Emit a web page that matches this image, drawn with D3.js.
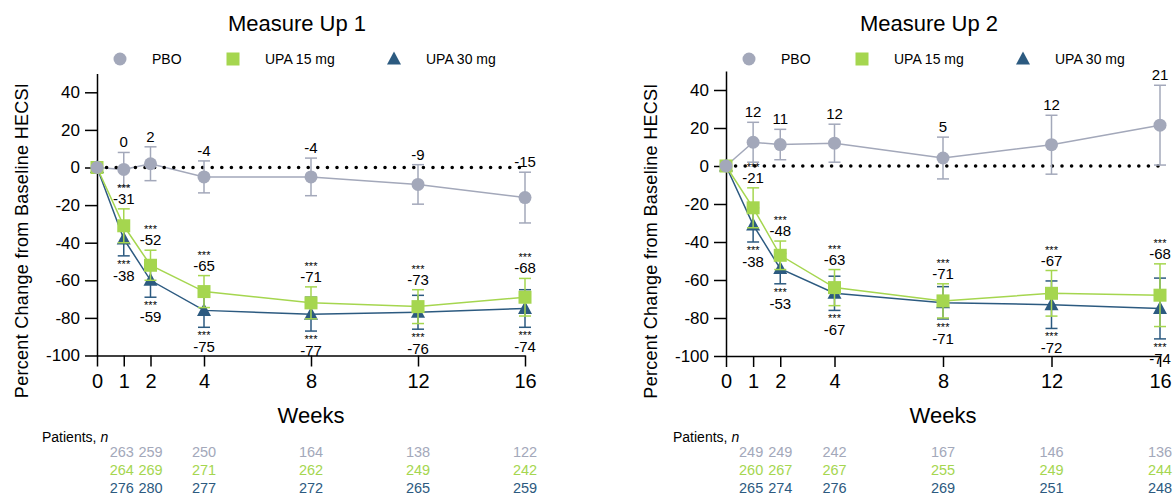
<!DOCTYPE html>
<html>
<head>
<meta charset="utf-8">
<title>HECSI percent change</title>
<script src="https://cdn.jsdelivr.net/npm/d3@7/dist/d3.min.js"></script>
<style>
  body { margin: 0; background: #fff; }
  text { font-family: "Liberation Sans", Arial, Helvetica, sans-serif; }
</style>
</head>
<body>
<script>
// shared
const weeks = [0, 1, 2, 4, 8, 12, 16];
const seriesNames = ["PBO", "UPA 15 mg", "UPA 30 mg"];
const seriesColors = ["#a3a8ba", "#a5d64f", "#2c5a80"];
const yTickValues = [-100, -80, -60, -40, -20, 0, 20, 40];

// Measure Up 1
const mu1Pbo = [0, -1, 2, -5, -5, -9, -16];
const mu1PboErr = [0, 9, 9, 8.5, 10, 10.5, 13.5];
const mu1PboLabel = [null, "0", "2", "-4", "-4", "-9", "-15"];
const mu1Upa15 = [0, -31, -52, -66, -72, -74, -69];
const mu1Upa15Err = [0, 9, 8, 8.5, 8.5, 9, 10];
const mu1Upa15Label = [null, "-31", "-52", "-65", "-71", "-73", "-68"];
const mu1Upa30 = [0, -38, -60, -76, -78, -77, -75];
const mu1Upa30Err = [0, 9, 9, 9, 9, 9, 10];
const mu1Upa30Label = [null, "-38", "-59", "-75", "-77", "-76", "-74"];
const mu1PatientsPbo = [263, 259, 250, 164, 138, 122];
const mu1PatientsUpa15 = [264, 269, 271, 262, 249, 242];
const mu1PatientsUpa30 = [276, 280, 277, 272, 265, 259];

// Measure Up 2
const mu2Pbo = [0, 12.5, 11.3, 12, 4.2, 11.2, 21.5];
const mu2PboErr = [0, 10.5, 8, 10, 11, 15.5, 21];
const mu2PboLabel = [null, "12", "11", "12", "5", "12", "21"];
const mu2Upa15 = [0, -22, -47, -64, -71, -67, -68];
const mu2Upa15Err = [0, 10.5, 7.5, 9.5, 9, 12, 16.5];
const mu2Upa15Label = [null, "-21", "-48", "-63", "-71", "-67", "-68"];
const mu2Upa30 = [0, -31, -54, -67, -72, -73, -75];
const mu2Upa30Err = [0, 9, 8, 9, 8.5, 12.5, 16];
const mu2Upa30Label = [null, "-38", "-53", "-67", "-71", "-72", "-74"];
const mu2PatientsPbo = [249, 249, 242, 167, 146, 136];
const mu2PatientsUpa15 = [260, 267, 267, 255, 249, 244];
const mu2PatientsUpa30 = [265, 274, 276, 269, 251, 248];

const svg = d3.select("body").append("svg")
    .attr("width", 1173)
    .attr("height", 499);

function drawPanel(p) {
  const x = d3.scaleLinear().domain([0, 16]).range([p.x0, p.x1]);
  const y = d3.scaleLinear().domain([-100, 50]).range([p.yBottom, p.yBottom - 150 * p.unit]);
  const g = svg.append("g");

  g.append("text")
      .attr("x", p.titleX).attr("y", 31)
      .attr("text-anchor", "middle")
      .attr("font-size", 22)
      .text(p.title);

  // legend
  const legendX = [p.x0 + 23, p.x0 + 136, p.x0 + 297];
  seriesNames.forEach((name, i) => {
    const lx = legendX[i];
    drawMarker(g, i, lx, 59, seriesColors[i]);
    g.append("text")
        .attr("x", lx + 32).attr("y", 64)
        .attr("font-size", 14)
        .text(name);
  });

  // axes
  g.append("g")
      .attr("transform", `translate(${p.x0},0)`)
      .call(d3.axisLeft(y).tickValues(yTickValues).tickSizeInner(12).tickSizeOuter(0)
          .tickPadding(5).tickFormat(d => String(d)))
      .call(a => a.selectAll("text").attr("font-size", 17).attr("font-family", null))
      .call(a => a.selectAll("line,path").attr("stroke-width", 1.5));

  g.append("g")
      .attr("transform", `translate(0,${p.yBottom})`)
      .call(d3.axisBottom(x).tickValues(weeks).tickSizeInner(11).tickSizeOuter(0)
          .tickPadding(7).tickFormat(d => String(d)))
      .call(a => a.selectAll("text").attr("font-size", 20).attr("font-family", null))
      .call(a => a.selectAll("line,path").attr("stroke-width", 1.5));

  g.append("text")
      .attr("transform", `translate(${p.yTitleX},${p.yBottom - 115}) rotate(-90)`)
      .attr("text-anchor", "middle")
      .attr("font-size", 18)
      .attr("letter-spacing", 0.3)
      .text("Percent Change from Baseline HECSI");

  g.append("text")
      .attr("x", (p.x0 + p.x1) / 2).attr("y", 423)
      .attr("text-anchor", "middle")
      .attr("font-size", 22)
      .text("Weeks");

  const series = p.series;
  const line = d3.line().x((d, i) => x(weeks[i])).y(d => y(d));

  // lines (placebo on top)
  [2, 1, 0].forEach(s => {
    g.append("path")
        .attr("d", line(series[s].mean))
        .attr("fill", "none")
        .attr("stroke", seriesColors[s])
        .attr("stroke-width", 1.5);
  });

  // zero reference
  g.append("line")
      .attr("x1", x(0)).attr("x2", x(16))
      .attr("y1", y(0)).attr("y2", y(0))
      .attr("stroke", "#000")
      .attr("stroke-width", 3.6)
      .attr("stroke-linecap", "round")
      .attr("stroke-dasharray", "0 9.6");

  // error bars + markers
  [2, 1, 0].forEach(s => {
    const sr = series[s];
    sr.mean.forEach((m, i) => {
      const e = sr.err[i];
      if (e > 0) {
        const cx = x(weeks[i]);
        g.append("line")
            .attr("x1", cx).attr("x2", cx)
            .attr("y1", y(m + e)).attr("y2", y(m - e))
            .attr("stroke", seriesColors[s]).attr("stroke-width", 1.5);
        [m + e, m - e].forEach(v => {
          g.append("line")
              .attr("x1", cx - 6).attr("x2", cx + 6)
              .attr("y1", y(v)).attr("y2", y(v))
              .attr("stroke", seriesColors[s]).attr("stroke-width", 1.5);
        });
      }
    });
    sr.mean.forEach((m, i) => drawMarker(g, s, x(weeks[i]), y(m), seriesColors[s]));
  });

  // value labels
  series.forEach((sr, s) => {
    sr.label.forEach((lab, i) => {
      if (lab == null) return;
      const cx = x(weeks[i]);
      if (s === 0) {
        g.append("text")
            .attr("x", cx).attr("y", y(sr.mean[i] + sr.err[i]) - 5)
            .attr("text-anchor", "middle").attr("font-size", 15)
            .text(lab);
      } else if (s === 1) {
        const base = y(sr.mean[i] + sr.err[i]) - 5;
        g.append("text")
            .attr("x", cx).attr("y", base)
            .attr("text-anchor", "middle").attr("font-size", 15)
            .text(lab);
        g.append("text")
            .attr("x", cx).attr("y", base - 12)
            .attr("text-anchor", "middle").attr("font-size", 11)
            .text("***");
      } else {
        const bottom = y(sr.mean[i] - sr.err[i]);
        g.append("text")
            .attr("x", cx).attr("y", bottom + 12)
            .attr("text-anchor", "middle").attr("font-size", 11)
            .text("***");
        g.append("text")
            .attr("x", cx).attr("y", bottom + 25)
            .attr("text-anchor", "middle").attr("font-size", 15)
            .text(lab);
      }
    });
  });

  // patients table
  const pt = g.append("text")
      .attr("x", p.patientsX).attr("y", 442)
      .attr("font-size", 14);
  pt.append("tspan").text("Patients, ");
  pt.append("tspan").attr("font-style", "italic").text("n");

  p.patients.forEach((row, s) => {
    row.forEach((n, i) => {
      g.append("text")
          .attr("x", x(weeks[i + 1]) - (i === 0 ? 2 : 0)).attr("y", 457 + s * 18)
          .attr("text-anchor", "middle")
          .attr("font-size", 14.5)
          .attr("fill", seriesColors[s])
          .text(n);
    });
  });
}

function drawMarker(g, type, cx, cy, color) {
  if (type === 0) {
    g.append("circle").attr("cx", cx).attr("cy", cy).attr("r", 6.5).attr("fill", color);
  } else if (type === 1) {
    g.append("rect").attr("x", cx - 6.5).attr("y", cy - 6.5)
        .attr("width", 13).attr("height", 13).attr("fill", color);
  } else {
    g.append("path")
        .attr("d", `M${cx},${cy - 7.5}L${cx + 7},${cy + 5.5}L${cx - 7},${cy + 5.5}Z`)
        .attr("fill", color);
  }
}

drawPanel({
  title: "Measure  Up 1", titleX: 297,
  x0: 97, x1: 525, yBottom: 355.5, unit: 1.88,
  yTitleX: 28, patientsX: 42,
  series: [
    { mean: mu1Pbo, err: mu1PboErr, label: mu1PboLabel },
    { mean: mu1Upa15, err: mu1Upa15Err, label: mu1Upa15Label },
    { mean: mu1Upa30, err: mu1Upa30Err, label: mu1Upa30Label }
  ],
  patients: [mu1PatientsPbo, mu1PatientsUpa15, mu1PatientsUpa30]
});

drawPanel({
  title: "Measure  Up 2", titleX: 929,
  x0: 726, x1: 1160, yBottom: 356, unit: 1.9,
  yTitleX: 657, patientsX: 673,
  series: [
    { mean: mu2Pbo, err: mu2PboErr, label: mu2PboLabel },
    { mean: mu2Upa15, err: mu2Upa15Err, label: mu2Upa15Label },
    { mean: mu2Upa30, err: mu2Upa30Err, label: mu2Upa30Label }
  ],
  patients: [mu2PatientsPbo, mu2PatientsUpa15, mu2PatientsUpa30]
});
</script>
</body>
</html>
